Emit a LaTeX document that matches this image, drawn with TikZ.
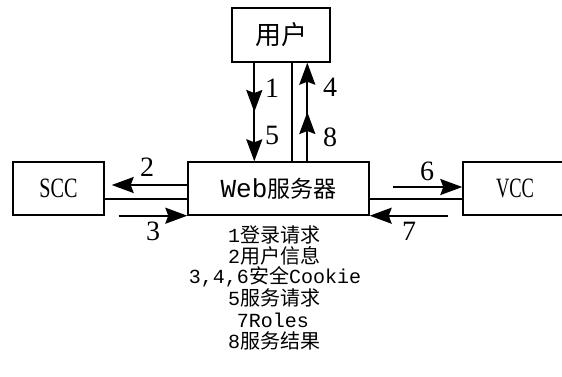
\documentclass[tikz,border=0pt]{standalone}
\usepackage{fontspec}
\usepackage{graphicx}
\setmainfont{Liberation Mono}
\newfontfamily\cjk{Noto Sans CJK SC}
\newfontfamily\seriffam{Liberation Serif}
\usetikzlibrary{arrows.meta,decorations.markings}
\tikzset{
  box/.style={draw, line width=1.4pt, inner sep=0pt},
  tip/.tip={Stealth[length=22pt,width=16pt,inset=3pt]},
  conn/.style={line width=2pt},
  arr/.style={conn, -tip},
  midarrow/.style={postaction={decorate}, decoration={markings, mark=at position 0.5 with {\arrow{tip}}}},
  lab/.style={font=\seriffam\fontsize{28}{28}\selectfont, inner sep=0pt},
  leg/.style={font=\fontsize{20}{20}\selectfont, inner sep=0pt}
}
\begin{document}
\begin{tikzpicture}[x=1pt,y=-1pt]
\clip (0,0) rectangle (562,376);
\fill[white] (0,0) rectangle (562,376);
% boxes
\node[box, minimum width=98pt, minimum height=54pt] (user) at (281,35) {\cjk\fontsize{26}{26}\selectfont 用户};
\node[box, minimum width=181pt, minimum height=53pt] (web) at (278.5,188.5) {\fontsize{26}{26}\selectfont Web{\cjk\fontsize{23}{23}\selectfont 服务器}};
\node[box, minimum width=91pt, minimum height=53pt] (scc) at (58.5,188.5) {\seriffam\fontsize{28}{28}\selectfont\scalebox{0.72}[1]{SCC}};
\node[box, minimum width=104pt, minimum height=53pt] (vcc) at (515,188.5) {\seriffam\fontsize{28}{28}\selectfont\scalebox{0.66}[1]{VCC}};
% vertical connectors
\coordinate (a1) at ([xshift=23pt]user.south west);
\coordinate (m1) at ([xshift=61pt]user.south west);
\coordinate (a4) at ([xshift=76pt]user.south west);
\draw[arr, midarrow] (a1) -- (a1 |- web.north);
\draw[conn] (m1) -- (m1 |- web.north);
\draw[arr, midarrow] (a4 |- web.north) -- (a4);
% left connectors
\draw[arr, shorten >=7pt] ([yshift=3.5pt]web.west) -- ([yshift=3.5pt]scc.east);
\draw[conn] ([yshift=-10.5pt]scc.east) -- ([yshift=-10.5pt]web.west);
\draw[arr] ([xshift=14pt]scc.south east) -- (web.south west);
% right connectors
\draw[arr] ([yshift=1.5pt,xshift=23pt]web.east) -- ([yshift=1.5pt]vcc.west);
\draw[conn] ([yshift=-10.5pt]web.east) -- ([yshift=-10.5pt]vcc.west);
\draw[arr] ([xshift=-14pt]vcc.south west) -- (web.south east);
% labels
\node[lab] (n1) at (272,88) {1};
\node[lab] (n5) at (272,135) {5};
\node[lab] (n4) at (330,87) {4};
\node[lab] (n8) at (330,137) {8};
\node[lab] (n2) at (147,167) {2};
\node[lab] (n3) at (153,231) {3};
\node[lab] (n6) at (427,171) {6};
\node[lab] (n7) at (409,231) {7};
% legend
\node[leg] (l1) at (274,235) {1{\cjk 登录请求}};
\node[leg] (l2) at (274,256) {2{\cjk 用户信息}};
\node[leg] (l3) at (275,277) {3,4,6{\cjk 安全}Cookie};
\node[leg] (l4) at (274,298) {5{\cjk 服务请求}};
\node[leg] (l5) at (273,320) {7Roles};
\node[leg] (l6) at (274,341) {8{\cjk 服务结果}};
\end{tikzpicture}
\end{document}
